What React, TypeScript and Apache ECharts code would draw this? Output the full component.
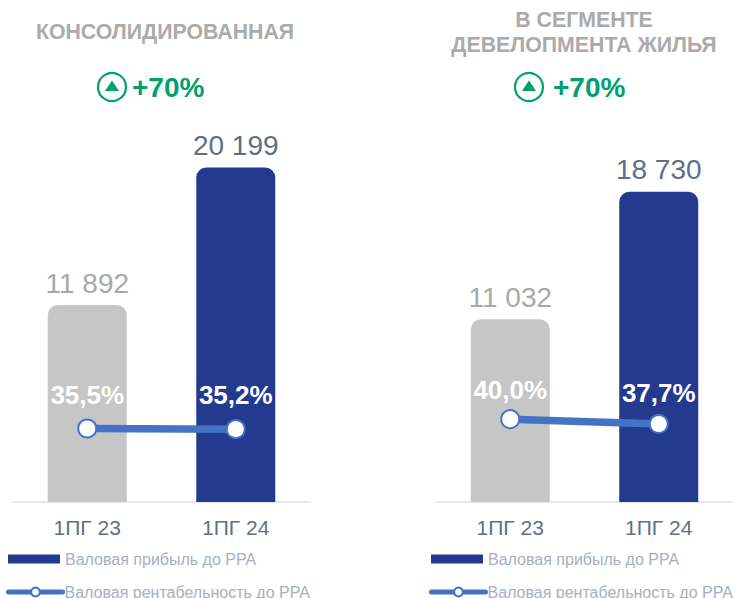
import React, { useEffect, useRef } from "react";
import * as echarts from "echarts";

const categories = ["1ПГ 23", "1ПГ 24"];
const leftProfit = [11892, 20199];
const rightProfit = [11032, 18730];
const leftMargin = [35.5, 35.2];
const rightMargin = [40.0, 37.7];
const leftTitle = "КОНСОЛИДИРОВАННАЯ";
const rightTitle = "В СЕГМЕНТЕ\nДЕВЕЛОПМЕНТА ЖИЛЬЯ";
const growthText = "+70%";
const profitName = "Валовая прибыль до РРА";
const marginName = "Валовая рентабельность до РРА";

const FONT = '"Liberation Sans", Arial, sans-serif';
const NAVY = "#233A8F";
const GREY = "#C6C6C6";
const BLUE = "#4472C4";
const GREEN = "#00A06E";
const SLATE = "#5F6F87";

const fmtThousands = (v: number) => {
  const s = String(v);
  return s.slice(0, -3) + " " + s.slice(-3);
};
const fmtPct = (v: number) => v.toFixed(1).replace(".", ",") + "%";

function panelSeries(
  grid: number,
  profit: number[],
  margin: number[],
  offsets: number[][]
): any[] {
  const yBar = grid * 2;
  return [
    {
      type: "bar",
      name: profitName,
      xAxisIndex: grid,
      yAxisIndex: yBar,
      barWidth: 79,
      itemStyle: { color: NAVY },
      data: profit.map((v, i) => ({
        value: v,
        itemStyle: { color: i === 0 ? GREY : NAVY, borderRadius: [10, 10, 0, 0] },
        label: { color: i === 0 ? "#A9A9A9" : SLATE },
      })),
      label: {
        show: true,
        position: "top",
        distance: 8,
        fontFamily: FONT,
        fontSize: 28,
        formatter: (p: any) => fmtThousands(p.value),
      },
      z: 2,
    },
    {
      type: "line",
      name: marginName,
      xAxisIndex: grid,
      yAxisIndex: yBar + 1,
      symbol: "circle",
      symbolSize: 18,
      showSymbol: true,
      lineStyle: { color: BLUE, width: 7.5 },
      itemStyle: { color: "#fff", borderColor: BLUE, borderWidth: 2 },
      data: margin.map((v, i) => ({
        value: v,
        label: { offset: offsets[i] },
      })),
      label: {
        show: true,
        position: "top",
        distance: 16,
        fontFamily: FONT,
        fontSize: 26,
        fontWeight: "bold",
        color: "#fff",
        formatter: (p: any) => fmtPct(p.value),
      },
      z: 5,
    },
  ];
}

const xAxis = (grid: number) => ({
  type: "category",
  gridIndex: grid,
  data: categories,
  axisTick: { show: false },
  axisLine: { lineStyle: { color: "#E6EAF0", width: 2 } },
  axisLabel: { color: SLATE, fontFamily: FONT, fontSize: 21, margin: 15 },
});
const yAxes = (grid: number) => [
  { type: "value", gridIndex: grid, min: 0, max: 25000, show: false },
  { type: "value", gridIndex: grid, min: 0, max: 200, show: false },
];

const legendBar = (left: number, top: number) => ({
  left,
  top,
  padding: 0,
  itemWidth: 52,
  itemHeight: 9,
  itemGap: 0,
  selectedMode: false,
  data: [{ name: profitName, icon: "rect", itemStyle: { color: NAVY } }],
  textStyle: { color: "#A5B0C0", fontFamily: FONT, fontSize: 16, padding: [0, 0, 0, 0] },
});
const legendLine = (left: number, top: number) => ({
  left,
  top,
  padding: 0,
  itemWidth: 54,
  itemHeight: 11,
  itemGap: 0,
  selectedMode: false,
  data: [{ name: marginName }],
  lineStyle: { width: 5, cap: "round", color: BLUE },
  textStyle: { color: "#A5B0C0", fontFamily: FONT, fontSize: 16, padding: [0, 0, 0, -3] },
});

const arrow = (cx: number, cy: number) => [
  {
    type: "circle",
    shape: { cx, cy, r: 14 },
    style: { fill: "none", stroke: GREEN, lineWidth: 2.2 },
  },
  {
    type: "polygon",
    shape: {
      points: [
        [cx, cy - 6.5],
        [cx + 7, cy + 4],
        [cx - 7, cy + 4],
      ],
    },
    style: { fill: GREEN },
  },
];
const growth = (x: number, y: number) => ({
  type: "text",
  x,
  y,
  style: {
    text: growthText,
    fill: GREEN,
    font: `bold 28px ${FONT}`,
    textVerticalAlign: "middle",
  },
});
const heading = (x: number, y: number, text: string) => ({
  type: "text",
  x,
  y,
  style: {
    text,
    fill: "#ABABAB",
    font: `bold 21.3px ${FONT}`,
    textAlign: "center",
    textVerticalAlign: "top",
    lineHeight: 25,
  },
});

export default function App() {
  const ref = useRef<HTMLDivElement>(null);
  useEffect(() => {
    const chart = echarts.init(ref.current!, undefined, { renderer: "svg" });
    chart.setOption({
      animation: false,
      backgroundColor: "#fff",
      grid: [
        { left: 13, width: 297, top: 88, height: 414 },
        { left: 436, width: 297, top: 88, height: 414 },
      ],
      xAxis: [xAxis(0), xAxis(1)],
      yAxis: [...yAxes(0), ...yAxes(1)],
      series: [
        ...panelSeries(0, leftProfit, leftMargin, [[0, 5], [0, 5]]),
        ...panelSeries(1, rightProfit, rightMargin, [[0, 10], [0, 8]]),
      ],
      legend: [
        legendBar(8, 551),
        legendLine(6, 584),
        legendBar(431, 551),
        legendLine(429, 584),
      ],
      graphic: [
        heading(165, 19, leftTitle),
        ...arrow(112, 87),
        growth(132, 87),
        heading(584, 7, rightTitle),
        ...arrow(529, 87),
        growth(553, 87),
      ],
    });
    return () => chart.dispose();
  }, []);
  return <div ref={ref} style={{ position: "fixed", left: 0, top: 0, width: 738, height: 598 }} />;
}
